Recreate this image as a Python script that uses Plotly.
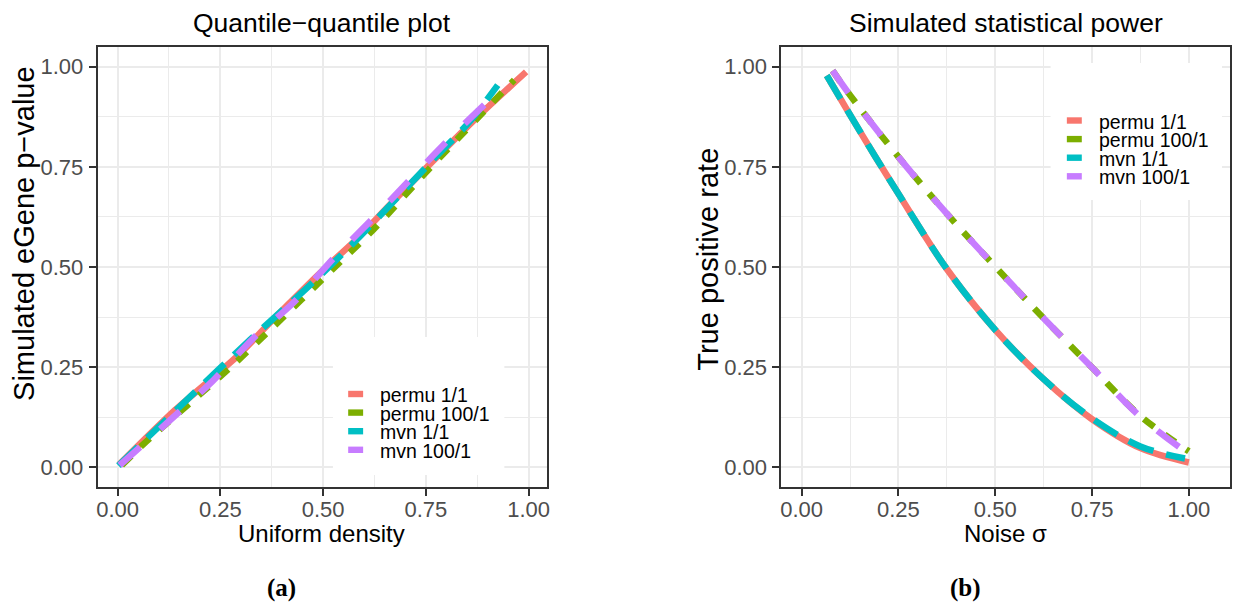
import plotly.graph_objects as go

W, H = 1238, 603
FONT = "Liberation Sans, Arial, Helvetica, sans-serif"
SERIF = "Liberation Serif, Times New Roman, serif"

# ---------------- data ----------------
series_names = ["permu 1/1", "permu 100/1", "mvn 1/1", "mvn 100/1"]
series_colors = ["#F8766D", "#7CAE00", "#00BFC4", "#C77CFF"]
series_dash = ["solid", "13px,13px", "27px,13px", "27px,27px"]

# (a) Quantile-quantile plot
qq_permu1_x = [0.003, 0.14, 0.29, 0.37, 0.50, 0.585, 0.666, 0.872, 0.994]
qq_permu1_y = [0.006, 0.143, 0.276, 0.360, 0.492, 0.573, 0.659, 0.871, 0.987]
qq_permu100_x = [0.010, 0.063, 0.274, 0.371, 0.524, 0.621, 0.759, 0.965]
qq_permu100_y = [0.005, 0.058, 0.249, 0.343, 0.495, 0.592, 0.746, 0.967]
qq_mvn1_x = [0.002, 0.176, 0.322, 0.468, 0.573, 0.694, 0.767, 0.856, 0.925]
qq_mvn1_y = [0.004, 0.176, 0.318, 0.455, 0.559, 0.688, 0.767, 0.862, 0.954]
qq_mvn100_x = [0.005, 0.128, 0.231, 0.330, 0.427, 0.524, 0.621, 0.718, 0.816, 0.913, 0.941]
qq_mvn100_y = [0.005, 0.118, 0.215, 0.322, 0.410, 0.520, 0.621, 0.725, 0.829, 0.925, 0.950]

# (b) Simulated statistical power
pw_permu1_x = [0.065, 0.125, 0.19, 0.25, 0.375, 0.50, 0.625, 0.75, 0.875, 1.00]
pw_permu1_y = [0.978, 0.880, 0.776, 0.683, 0.495, 0.343, 0.220, 0.120, 0.048, 0.012]
pw_permu100_x = [0.080, 0.125, 0.25, 0.375, 0.50, 0.625, 0.75, 0.875, 1.00]
pw_permu100_y = [0.990, 0.929, 0.775, 0.633, 0.501, 0.372, 0.249, 0.128, 0.040]
pw_mvn1_x = [0.065, 0.125, 0.19, 0.25, 0.375, 0.50, 0.625, 0.75, 0.875, 0.99]
pw_mvn1_y = [0.978, 0.880, 0.776, 0.683, 0.495, 0.343, 0.220, 0.122, 0.052, 0.022]
pw_mvn100_x = [0.080, 0.125, 0.25, 0.375, 0.50, 0.625, 0.75, 0.875, 1.00]
pw_mvn100_y = [0.990, 0.929, 0.775, 0.633, 0.501, 0.372, 0.249, 0.126, 0.033]

tick_vals = [0, 0.25, 0.5, 0.75, 1.0]
tick_text = ["0.00", "0.25", "0.50", "0.75", "1.00"]
minor_vals = [0.125, 0.375, 0.625, 0.875]

panel_titles = ["Quantile\u2212quantile plot", "Simulated statistical power"]
x_titles = ["Uniform density", "Noise \u03c3"]
y_titles = ["Simulated eGene p\u2212value", "True positive rate"]
captions = ["<b>(a)</b>", "<b>(b)</b>"]


def px(x):
    return x / W


def py(y):
    return 1 - y / H


fig = go.Figure()

left = [(qq_permu1_x, qq_permu1_y), (qq_permu100_x, qq_permu100_y),
        (qq_mvn1_x, qq_mvn1_y), (qq_mvn100_x, qq_mvn100_y)]
right = [(pw_permu1_x, pw_permu1_y), (pw_permu100_x, pw_permu100_y),
         (pw_mvn1_x, pw_mvn1_y), (pw_mvn100_x, pw_mvn100_y)]

for (xs, ys), name, col, dash in zip(left, series_names, series_colors, series_dash):
    fig.add_trace(go.Scatter(x=xs, y=ys, mode="lines", name=name, showlegend=False,
                             line=dict(color=col, width=6.5, dash=dash, shape="spline", smoothing=0.8),
                             xaxis="x", yaxis="y", hoverinfo="skip"))
for (xs, ys), name, col, dash in zip(right, series_names, series_colors, series_dash):
    fig.add_trace(go.Scatter(x=xs, y=ys, mode="lines", name=name, showlegend=False,
                             line=dict(color=col, width=6.5, dash=dash, shape="spline", smoothing=1.0),
                             xaxis="x2", yaxis="y2", hoverinfo="skip"))


def axis(domain, rng, anchor, standoff):
    return dict(
        domain=domain, range=rng, anchor=anchor,
        showline=True, mirror=True, linecolor="#333333", linewidth=2,
        ticks="outside", ticklen=7, tickwidth=2, tickcolor="#333333",
        tickfont=dict(size=22, color="#4D4D4D", family=FONT),
        tickvals=tick_vals, ticktext=tick_text, ticklabelstandoff=standoff,
        showgrid=True, gridcolor="#EBEBEB", gridwidth=2, zeroline=False,
        minor=dict(tickvals=minor_vals, showgrid=True, gridcolor="#EBEBEB",
                   gridwidth=1, ticks=""),
    )


yd = [py(487), py(47)]
fig.update_layout(
    width=W, height=H, autosize=False,
    margin=dict(l=0, r=0, t=0, b=0),
    paper_bgcolor="white", plot_bgcolor="white",
    font=dict(family=FONT, color="black"),
    showlegend=False,
    xaxis=axis([px(97), px(547.3)], [-0.0485, 1.0437], "y", -5),
    yaxis=axis(yd, [-0.0492, 1.0492], "x", 1),
    xaxis2=axis([px(783), px(1232.7)], [-0.052, 1.1055], "y2", -5),
    yaxis2=axis(yd, [-0.0492, 1.0492], "x2", 1),
)

ann = []
shapes = []
panel_cx = [322, 1008]
for i in range(2):
    ann.append(dict(text=panel_titles[i], x=px(panel_cx[i]), y=py(23), xref="paper", yref="paper",
                    xanchor="center", yanchor="middle", showarrow=False,
                    font=dict(size=26.5, color="black", family=FONT)))
    ann.append(dict(text=x_titles[i], x=px(panel_cx[i]), y=py(533), xref="paper", yref="paper",
                    xanchor="center", yanchor="middle", showarrow=False,
                    font=dict(size=24, color="black", family=FONT)))
y_title_pos = [(23, 233), (709, 259)]
for i in range(2):
    ann.append(dict(text=y_titles[i], x=px(y_title_pos[i][0]), y=py(y_title_pos[i][1]),
                    xref="paper", yref="paper", textangle=-90,
                    xanchor="center", yanchor="middle", showarrow=False,
                    font=dict(size=29, color="black", family=FONT)))
cap_x = [281, 968]
for i in range(2):
    ann.append(dict(text=captions[i], x=px(cap_x[i]), y=py(588), xref="paper", yref="paper",
                    xanchor="center", yanchor="middle", showarrow=False,
                    font=dict(size=25, color="black", family=SERIF)))

# legends (one per panel)
legend_boxes = [(333, 337, 505, 475), (1053, 63, 1225, 200)]
legend_key_x = [348.3, 1069.3]
legend_row0 = [394, 120.5]
row_gap = 18.6
for p in range(2):
    x0, y0, x1, y1 = legend_boxes[p]
    shapes.append(dict(type="rect", xref="paper", yref="paper", layer="above",
                       x0=px(x0), x1=px(x1), y0=py(y1), y1=py(y0),
                       fillcolor="white", line=dict(width=0)))
    for k, (name, col) in enumerate(zip(series_names, series_colors)):
        cy = legend_row0[p] + k * row_gap
        kx = legend_key_x[p]
        shapes.append(dict(type="rect", xref="paper", yref="paper", layer="above",
                           x0=px(kx), x1=px(kx + 15), y0=py(cy + 3.2), y1=py(cy - 3.2),
                           fillcolor=col, line=dict(width=0)))
        ann.append(dict(text=name, x=px(kx + 30), y=py(cy + 1), xref="paper", yref="paper",
                        xanchor="left", yanchor="middle", showarrow=False,
                        font=dict(size=19.5, color="black", family=FONT)))

fig.update_layout(annotations=ann, shapes=shapes)

fig.write_html("out.html", config={"displayModeBar": False},
               post_script="document.body.style.margin='0';")
